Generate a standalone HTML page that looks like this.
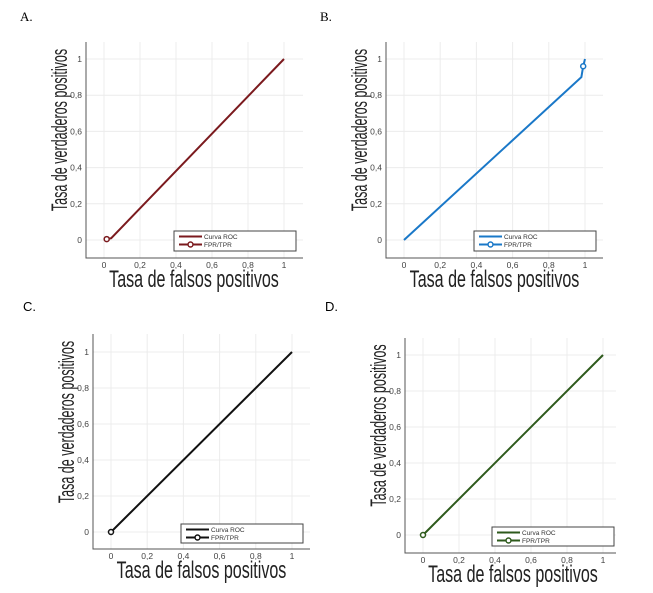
<!DOCTYPE html>
<html><head><meta charset="utf-8"><style>
body{margin:0;background:#fff;width:653px;height:593px;overflow:hidden}
svg{display:block}
</style></head><body>
<svg id="s" width="653" height="593" xmlns="http://www.w3.org/2000/svg"></svg>
<script>
const ticks = [0, 0.2, 0.4, 0.6, 0.8, 1];
const tickLabels = ["0", "0,2", "0,4", "0,6", "0,8", "1"];
const fprA = [0.015, 0.04, 1]; const tprA = [0.005, 0.01, 1];
const fprB = [0, 0.98, 0.99, 1]; const tprB = [0, 0.9, 0.96, 1];
const fprC = [0, 1]; const tprC = [0, 1];
const fprD = [0, 1]; const tprD = [0, 1];
const markerA = [0.015, 0.005]; const markerB = [0.99, 0.96];
const markerC = [0, 0]; const markerD = [0, 0];
const panelLabels = ["A.", "B.", "C.", "D."];

const svg = document.getElementById('s');
const NS = 'http://www.w3.org/2000/svg';
function mk(tag, attrs, parent) { const e = document.createElementNS(NS, tag); for (const k in attrs) e.setAttribute(k, attrs[k]); (parent || svg).appendChild(e); return e; }

const panels = [
 {name:'a', lab:[20,21,'Liberation Serif'], L:86, R:303, T:42, B:258, x0:104, x1:284, y0:240, y1:59, leg:[174,231,122,20], col:'#7b1a1e', fpr:fprA, tpr:tprA, m:markerA},
 {name:'b', lab:[320,21,'Liberation Serif'], L:386, R:603, T:42, B:258, x0:404, x1:585, y0:240, y1:59, leg:[474,231,122,20], col:'#1a78c8', fpr:fprB, tpr:tprB, m:markerB},
 {name:'c', lab:[23,311,'Liberation Sans'], L:93, R:310, T:334, B:549, x0:111, x1:292, y0:532, y1:352, leg:[181,524,122,19], col:'#111111', fpr:fprC, tpr:tprC, m:markerC},
 {name:'d', lab:[325,311,'Liberation Sans'], L:405, R:616, T:338, B:553, x0:423, x1:603, y0:535, y1:355, leg:[492,527,122,19], col:'#2e5a1c', fpr:fprD, tpr:tprD, m:markerD},
];
panels.forEach((p, i) => {
  const g = mk('g', {});
  
  
  const xs = v => p.x0 + v * (p.x1 - p.x0);
  const ys = v => p.y0 - v * (p.y0 - p.y1);
  const t = mk('text', {x:p.lab[0], y:p.lab[1], 'font-family':p.lab[2] + ',sans-serif', 'font-size':13, fill:'#000'}, g);
  t.textContent = panelLabels[i];
  
  
  ticks.forEach((v, j) => {
    const gx = mk('line', {x1:xs(v), x2:xs(v), y1:p.T, y2:p.B, stroke:'#ececec', 'stroke-width':1}, g);
    
    
    const gy = mk('line', {x1:p.L, x2:p.R, y1:ys(v), y2:ys(v), stroke:'#ececec', 'stroke-width':1}, g);
    
    
    const tx = mk('text', {x:xs(v), y:p.B + 10, 'text-anchor':'middle', 'font-family':'Liberation Sans,sans-serif', 'font-size':8.5, fill:'#444'}, g);
    tx.textContent = tickLabels[j];
    
    
    const ty = mk('text', {x:p.L - 4, y:ys(v) + 3, 'text-anchor':'end', 'font-family':'Liberation Sans,sans-serif', 'font-size':8.5, fill:'#444'}, g);
    ty.textContent = tickLabels[j];
    
    
  });
  const ax = mk('path', {d:`M${p.L},${p.T}V${p.B}H${p.R}`, fill:'none', stroke:'#555', 'stroke-width':1}, g);
  
  
  const pts = p.fpr.map((v, k) => xs(v) + ',' + ys(p.tpr[k])).join(' ');
  const ln = mk('polyline', {points:pts, fill:'none', stroke:p.col, 'stroke-width':2}, g);
  
  
  const mc = mk('circle', {cx:xs(p.m[0]), cy:ys(p.m[1]), r:2.5, fill:'#fff', stroke:p.col, 'stroke-width':1.5}, g);
  
  
  const [lx, ly, lw, lh] = p.leg;
  const lg = mk('g', {}, g);
  
  
  mk('rect', {x:lx, y:ly, width:lw, height:lh, fill:'#fff', stroke:'#444', 'stroke-width':1}, lg);
  mk('line', {x1:lx + 5, x2:lx + 28, y1:ly + 5.5, y2:ly + 5.5, stroke:p.col, 'stroke-width':2}, lg);
  mk('line', {x1:lx + 5, x2:lx + 28, y1:ly + 13.5, y2:ly + 13.5, stroke:p.col, 'stroke-width':2}, lg);
  mk('circle', {cx:lx + 16.5, cy:ly + 13.5, r:2.5, fill:'#fff', stroke:p.col, 'stroke-width':1.5}, lg);
  const l1 = mk('text', {x:lx + 30, y:ly + 8, 'font-family':'Liberation Sans,sans-serif', 'font-size':6.5, fill:'#333'}, lg);
  l1.textContent = 'Curva ROC';
  const l2 = mk('text', {x:lx + 30, y:ly + 16, 'font-family':'Liberation Sans,sans-serif', 'font-size':6.5, fill:'#333'}, lg);
  l2.textContent = 'FPR/TPR';
  const xt = mk('text', {x:0, y:0, 'text-anchor':'middle', 'font-family':'Liberation Sans,sans-serif', 'font-size':24, fill:'#222', transform:`translate(${(p.x0 + p.x1) / 2},${p.B + 29}) scale(0.67,1)`}, g);
  xt.textContent = 'Tasa de falsos positivos';
  
  
  const yt = mk('text', {x:0, y:0, 'text-anchor':'middle', 'font-family':'Liberation Sans,sans-serif', 'font-size':22, fill:'#222', transform:`translate(${p.L - 19},${(p.T + p.y0) / 2 - 11}) rotate(-90) scale(0.57,1)`}, g);
  yt.textContent = 'Tasa de verdaderos positivos';
  
  
});
</script>
</body></html>
